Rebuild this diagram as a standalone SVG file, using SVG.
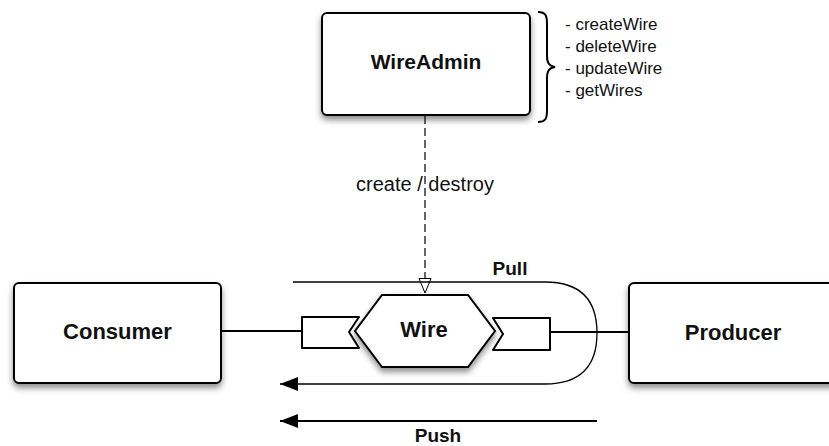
<svg xmlns="http://www.w3.org/2000/svg" width="829" height="446" viewBox="0 0 829 446">
  <style>
    .box { fill: #ffffff; stroke: #000; stroke-width: 2; filter: url(#shadow); }
    .lbl { font-family: "Liberation Sans", Arial, sans-serif; font-weight: bold; fill: #111; text-anchor: middle; }
    .txt { font-family: "Liberation Sans", Arial, sans-serif; fill: #111; }
    .conn { fill: none; stroke: #000; }
  </style>
  <defs>
    <filter id="shadow" x="-20%" y="-20%" width="140%" height="150%">
      <feDropShadow dx="0" dy="4" stdDeviation="3" flood-color="#000" flood-opacity="0.45"/>
    </filter>
    <marker id="solid" markerWidth="20" markerHeight="16" refX="18" refY="7" orient="auto" markerUnits="userSpaceOnUse">
      <path d="M0,0 L18,7 L0,14 Z" fill="#000"/>
    </marker>
    <marker id="hollow" markerWidth="16" markerHeight="18" refX="15" refY="6.5" orient="auto" markerUnits="userSpaceOnUse">
      <path d="M0.5,0.5 L15,6.5 L0.5,12.5 Z" fill="#fff" stroke="#000" stroke-width="1"/>
    </marker>
  </defs>

  <g id="connectors">
    <line class="conn" x1="221" y1="331" x2="302" y2="331" stroke-width="2"/>
    <line class="conn" x1="550" y1="332" x2="629" y2="332" stroke-width="2"/>
    <line class="conn" x1="425" y1="116" x2="425" y2="293" stroke-width="1.2" stroke-dasharray="8 4" marker-end="url(#hollow)"/>
    <path class="conn" d="M293,282 L545,282 C582,282 597,302 597,333 C597,366 580,384 545,384 L280,384" stroke-width="1.3" marker-end="url(#solid)"/>
    <line class="conn" x1="597" y1="421" x2="280" y2="421" stroke="#333" stroke-width="1.8" marker-end="url(#solid)"/>
  </g>

  <g id="wireadmin">
    <rect class="box" x="322" y="13" width="208" height="102" rx="5"/>
    <text class="lbl" x="426" y="69" font-size="21">WireAdmin</text>
  </g>

  <g id="methods">
    <path d="M538,12 C546,12 547,16 547,24 L547,56 C547,63 549,66 555,67 C549,68 547,71 547,78 L547,110 C547,118 546,122 538,122" fill="none" stroke="#000" stroke-width="2"/>
    <text class="txt" x="565" y="30" font-size="17">- createWire</text>
    <text class="txt" x="565" y="52" font-size="17">- deleteWire</text>
    <text class="txt" x="565" y="74" font-size="17">- updateWire</text>
    <text class="txt" x="565" y="96" font-size="17">- getWires</text>
  </g>

  <g id="create-destroy-label">
    <text class="txt" x="425" y="191" font-size="20" text-anchor="middle">create / destroy</text>
  </g>

  <g id="consumer">
    <rect class="box" x="14" y="283" width="207" height="100" rx="5"/>
    <text class="lbl" x="117.5" y="339" font-size="22">Consumer</text>
  </g>

  <g id="producer">
    <rect class="box" x="629" y="283" width="212" height="100" rx="5"/>
    <text class="lbl" x="733" y="340" font-size="22">Producer</text>
  </g>

  <g id="left-port">
    <path d="M302,317 L359,317 L349,332 L359,348 L302,348 Z" fill="#fff" stroke="#000" stroke-width="2" stroke-linejoin="round"/>
  </g>

  <g id="right-port">
    <path d="M493,318 L550,318 L550,350 L493,350 L503,334 Z" fill="#fff" stroke="#000" stroke-width="2" stroke-linejoin="round"/>
  </g>

  <g id="wire">
    <path class="box" d="M382,295 L468,295 L495,331 L468,367 L382,367 L355,331 Z"/>
    <text class="lbl" x="424" y="337" font-size="22">Wire</text>
  </g>

  <g id="pull-label">
    <text class="lbl" x="510" y="275" font-size="19">Pull</text>
  </g>

  <g id="push-label">
    <text class="lbl" x="438" y="442" font-size="19">Push</text>
  </g>
</svg>
